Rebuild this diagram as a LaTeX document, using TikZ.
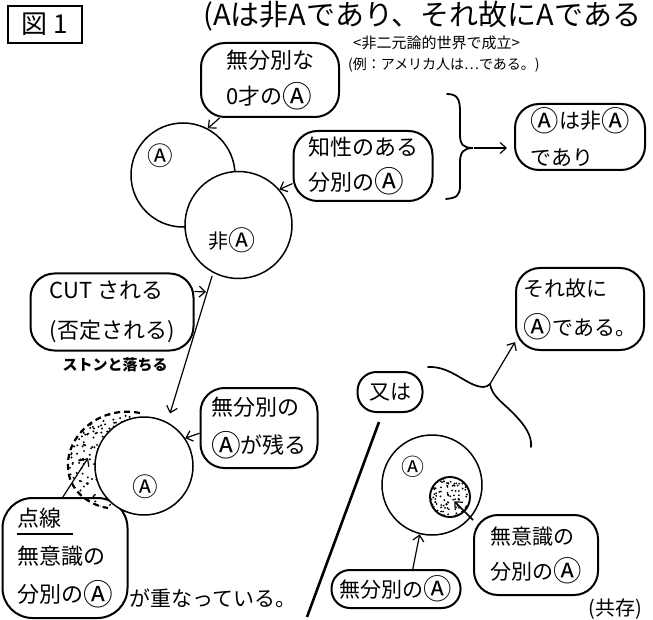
\documentclass[tikz,border=0pt]{standalone}
\usepackage{fontspec}
\setmainfont{Noto Sans CJK JP}
\usetikzlibrary{arrows.meta,calc}
\newcommand\jfs[2]{\fontsize{#1}{#2}\selectfont}
\newcommand\ciA{\raisebox{-0.1em}{\scalebox{1.35}{Ⓐ}}}
\begin{document}
\begin{tikzpicture}[x=1pt,y=-1pt,
  bubble/.style={draw, line width=2pt, rounded corners=24pt, align=left, inner sep=0pt},
  ring/.style={draw, circle, line width=1.5pt, inner sep=0pt},
  arr/.style={line width=1.2pt, -{Straight Barb[length=6pt,width=11pt,line width=1.2pt]}},
  txt/.style={inner sep=0pt},
  hand/.style={line width=1.7pt, line cap=round}
  ]
\fill[white] (0,0) rectangle (653,620);
\useasboundingbox (0,0) rectangle (653,620);
\clip (0,0) rectangle (653,620);

% header
\node[draw, line width=2.2pt, minimum width=74pt, minimum height=37pt, inner sep=0pt, font=\jfs{26}{26}] (fig) at (45,24.5) {図 1};
\node[txt, anchor=west, font=\jfs{29}{29}] (title) at (203,16) {(Aは非Aであり、それ故にAである};
\node[txt, anchor=west, font=\jfs{15}{15}] (sub1) at (353,43) {<非二元論的世界で成立>};
\node[txt, anchor=west, font=\jfs{14}{14}] (sub2) at (348,65) {(例：アメリカ人は…である。)};

% upper circles
\node[ring, minimum size=104pt] (cA) at (183,175) {};
\node[ring, fill=white, minimum size=107pt] (cNA) at (238.5,225) {};
\node[txt, font=\jfs{19}{19}] (lA) at (160,156) {\ciA};
\node[txt, font=\jfs{20}{20}] (lNA) at (232,240) {非\ciA};

% bubbles
\node[bubble, minimum width=138pt, minimum height=74pt, font=\jfs{22}{36}] (B1) at (270,80) {無分別な\\0才の\ciA};
\node[bubble, minimum width=139pt, minimum height=70pt, font=\jfs{22}{35}] (B2) at (363,166) {知性のある\\分別の\ciA};
\node[bubble, minimum width=130pt, minimum height=66pt, font=\jfs{21}{37}] (B3) at (580,137) {\ciA は非\ciA\\であり};
\node[bubble, minimum width=163pt, minimum height=77pt, font=\jfs{22}{40}] (B4) at (112,312) {CUT される\\(否定される)};
\node[bubble, minimum width=117pt, minimum height=80pt, font=\jfs{22}{38}] (B5) at (259,428) {無分別の\\\ciA が残る};
\node[bubble, rounded corners=30pt, minimum width=125pt, minimum height=120pt, font=\jfs{22}{38}] (B6) at (65,558) {点線\\無意識の\\分別の\ciA};
\node[bubble, minimum width=128pt, minimum height=82pt, font=\jfs{21}{39}] (B7) at (580,309) {それ故に\\\ciA である。};
\node[bubble, rounded corners=19pt, minimum width=65pt, minimum height=40pt, font=\jfs{21}{21}] (B8) at (390,392) {又は};
\node[bubble, minimum width=124pt, minimum height=80pt, font=\jfs{21}{35}] (B9) at (536,555) {無意識の\\分別の\ciA};
\node[bubble, rounded corners=18.5pt, minimum width=129pt, minimum height=38pt, font=\jfs{21}{21}] (B10) at (396,589) {無分別の\ciA};

\draw[line width=1.2pt] (17,534) -- (73,534);

% free texts
\node[txt, font=\bfseries\jfs{15}{15}] (drop) at (115,365) {ストンと落ちる};
\node[txt, font=\jfs{21}{21}] (overlap) at (213,598) {が重なっている。};
\node[txt, font=\jfs{20}{20}] (kyozon) at (615,609) {(共存)};

% brace
\draw[hand, line width=1.8pt] (447,94) .. controls (458,94) and (460,100) .. (460,112) -- (460,135)
  .. controls (460,145) and (464,148) .. (473,148)
  .. controls (464,148) and (460,152) .. (460,162) -- (460,186)
  .. controls (460,196) and (456,198) .. (446,199);
\coordinate (brtip) at (474,148);
\draw[arr, shorten >=7pt] (brtip) -- (B3.west |- brtip);

% connectors upper
\draw[arr] (B1.217) -- (cA.62);
\draw[arr] (B2.194) -- (cNA.41);
\coordinate (cutHit) at (206,292);
\draw[arr] (B4.14) -- (cutHit);

% lower left: crescent
\begin{scope}
\clip (140,413) .. controls (100,405) and (66,435) .. (68,468) .. controls (69,490) and (88,505) .. (108,508) -- (144,466) -- cycle;
\pgfmathsetseed{11}
\foreach \i in {1,...,300}{\fill ({62+85*rnd},{403+110*rnd}) circle (1.1pt);}
\end{scope}
\draw[line width=2.2pt, dash pattern=on 6pt off 4pt] (140,413) .. controls (100,405) and (66,435) .. (68,468) .. controls (69,490) and (88,505) .. (108,508);
\node[ring, fill=white, minimum size=98pt] (cL) at (144,466) {};
\node[txt, font=\jfs{19}{19}] (lL) at (145,487) {\ciA};
\coordinate (cresPt) at (88,458);

\draw[arr, shorten <=3pt, shorten >=9pt] (cNA.242) -- (cL.62);
\draw[arr] (B5.185) -- (cL.34);
\draw[arr] (B6.92) -- (cresPt);

% slash
\coordinate (slT) at (379,422);
\coordinate (slB) at (307,617);
\draw[line width=2.6pt] (slT) -- (slB);

% fork
\coordinate (fork) at (490,384);
\draw[hand] (428,367) .. controls (452,366) and (466,386) .. (483,387) .. controls (486,387) and (488,386) .. (fork);
\draw[hand] (fork) .. controls (492,396) and (502,402) .. (512,412) .. controls (526,426) and (532,436) .. (531,447);
\draw[arr] (fork) -- (B7.207);

% lower right circles
\node[ring, minimum size=100pt] (cR) at (432,485) {};
\node[txt, font=\jfs{17}{17}] (lR) at (413,467) {\ciA};
\begin{scope}
\clip (450,497) circle (20pt);
\pgfmathsetseed{7}
\foreach \i in {1,...,110}{\fill ({430+40*rnd},{477+40*rnd}) circle (1pt);}
\end{scope}
\node[ring, line width=1.9pt, minimum size=40pt] (cI) at (450,497) {};

\draw[arr] (B10.50) -- (cR.256);
\draw[arr, line width=1.6pt, shorten >=6pt] (B9.151) -- (cI.center);
\end{tikzpicture}
\end{document}
